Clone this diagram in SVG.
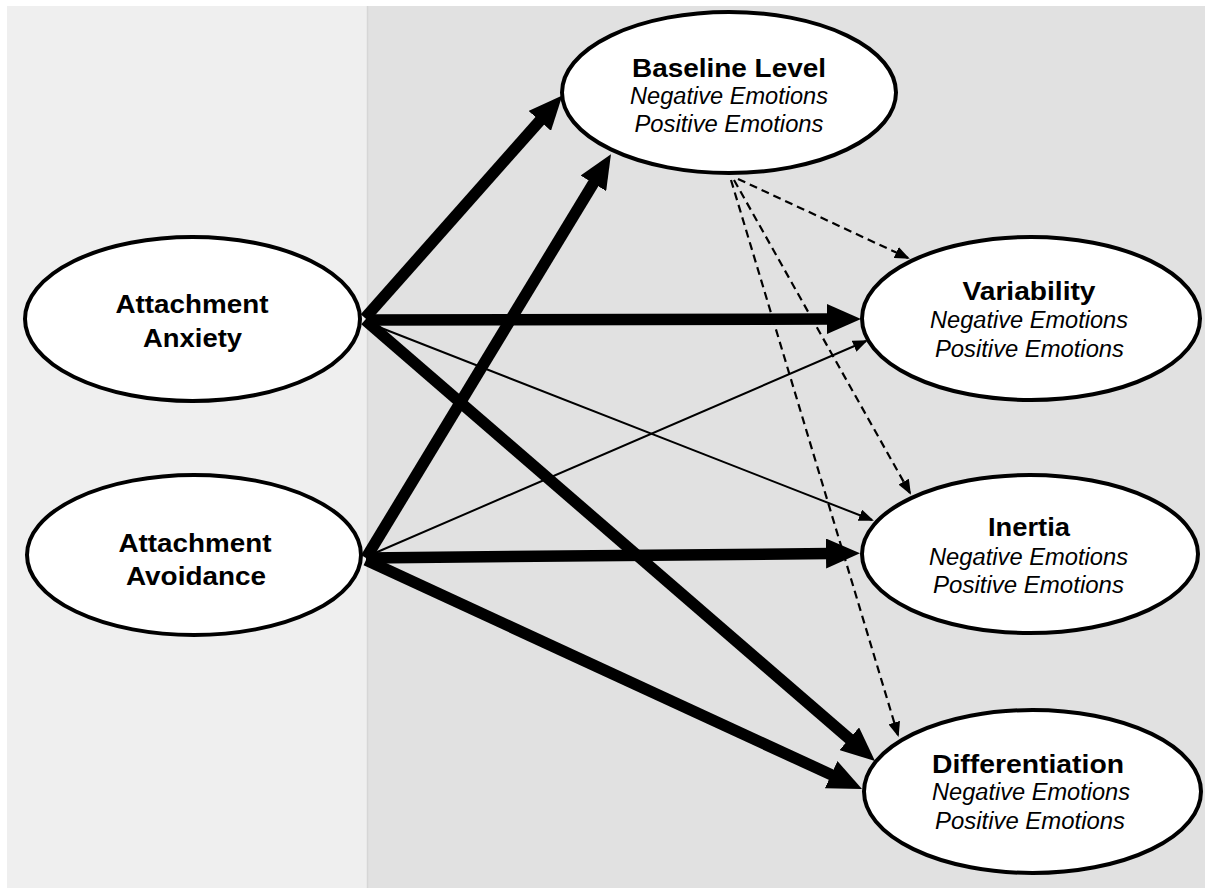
<svg xmlns="http://www.w3.org/2000/svg" width="1205" height="888" viewBox="0 0 1205 888">
<style>
.node ellipse{fill:#fff;stroke:#000;stroke-width:4}
.t{font-family:"Liberation Sans",Arial,sans-serif;font-weight:bold;font-size:26px;fill:#000;text-anchor:middle}
.s{font-family:"Liberation Sans",Arial,sans-serif;font-style:italic;font-size:23px;fill:#000;text-anchor:middle}
.thick{stroke:#000;stroke-width:11.5;fill:none}
.thin{stroke:#000;stroke-width:2;fill:none}
.dash{stroke:#000;stroke-width:2.2;fill:none;stroke-dasharray:8,5}
</style>
<defs>
<marker id="hBig" markerUnits="userSpaceOnUse" markerWidth="34" markerHeight="30" refX="4" refY="15" orient="auto" viewBox="0 0 34 30">
<path d="M0,0 L34,15 L0,30 z" fill="#000"/>
</marker>
<marker id="hSmall" markerUnits="userSpaceOnUse" markerWidth="15" markerHeight="12" refX="13" refY="6" orient="auto" viewBox="0 0 15 12">
<path d="M0,0 L15,6 L0,12 z" fill="#000"/>
</marker>
</defs>
<rect x="0" y="0" width="1205" height="888" fill="#fff"/>
<rect x="7" y="6" width="360" height="882" fill="#efefef"/>
<rect x="367" y="6" width="838" height="882" fill="#e1e1e1"/>
<line x1="367.5" y1="6" x2="367.5" y2="888" stroke="#d6d6d6" stroke-width="1.5"/>
<g id="connectors">
<line class="thick" x1="365" y1="318" x2="542.4" y2="117.9" marker-end="url(#hBig)"/>
<line class="thick" x1="366" y1="558" x2="595.4" y2="179.9" marker-end="url(#hBig)"/>
<line class="thick" x1="366" y1="320" x2="831" y2="319" marker-end="url(#hBig)"/>
<line class="thick" x1="365" y1="320" x2="852.3" y2="741.4" marker-end="url(#hBig)"/>
<line class="thick" x1="366" y1="558" x2="830" y2="553.5" marker-end="url(#hBig)"/>
<line class="thick" x1="366" y1="560" x2="834.8" y2="776.4" marker-end="url(#hBig)"/>
<line class="thin" x1="366" y1="322" x2="872" y2="520" marker-end="url(#hSmall)"/>
<line class="thin" x1="368" y1="556" x2="866" y2="341" marker-end="url(#hSmall)"/>
<line class="dash" x1="738" y1="179" x2="908" y2="258" marker-end="url(#hSmall)"/>
<line class="dash" x1="734" y1="180" x2="910" y2="493" marker-end="url(#hSmall)"/>
<line class="dash" x1="731" y1="180" x2="898" y2="735" marker-end="url(#hSmall)"/>
</g>
<g id="anxiety" class="node">
<ellipse cx="192.5" cy="319" rx="167.5" ry="82"/>
<text class="t" x="192" y="313" textLength="153" lengthAdjust="spacingAndGlyphs">Attachment</text>
<text class="t" x="192.5" y="347" textLength="99" lengthAdjust="spacingAndGlyphs">Anxiety</text>
</g>
<g id="avoidance" class="node">
<ellipse cx="194" cy="555" rx="167" ry="80"/>
<text class="t" x="195" y="552" textLength="153" lengthAdjust="spacingAndGlyphs">Attachment</text>
<text class="t" x="196" y="585" textLength="140" lengthAdjust="spacingAndGlyphs">Avoidance</text>
</g>
<g id="baseline" class="node">
<ellipse cx="729" cy="92.5" rx="167" ry="80.5"/>
<text class="t" x="729" y="77" textLength="194" lengthAdjust="spacingAndGlyphs">Baseline Level</text>
<text class="s" x="729" y="104" textLength="198" lengthAdjust="spacingAndGlyphs">Negative Emotions</text>
<text class="s" x="729" y="132" textLength="189" lengthAdjust="spacingAndGlyphs">Positive Emotions</text>
</g>
<g id="variability" class="node">
<ellipse cx="1031" cy="318.5" rx="169" ry="81.5"/>
<text class="t" x="1029" y="300" textLength="133" lengthAdjust="spacingAndGlyphs">Variability</text>
<text class="s" x="1029" y="328" textLength="198" lengthAdjust="spacingAndGlyphs">Negative Emotions</text>
<text class="s" x="1029.5" y="357" textLength="189" lengthAdjust="spacingAndGlyphs">Positive Emotions</text>
</g>
<g id="inertia" class="node">
<ellipse cx="1030" cy="554" rx="168" ry="79"/>
<text class="t" x="1029" y="536" textLength="82" lengthAdjust="spacingAndGlyphs">Inertia</text>
<text class="s" x="1028.5" y="565" textLength="199" lengthAdjust="spacingAndGlyphs">Negative Emotions</text>
<text class="s" x="1028.5" y="593" textLength="191" lengthAdjust="spacingAndGlyphs">Positive Emotions</text>
</g>
<g id="differentiation" class="node">
<ellipse cx="1032.5" cy="791.5" rx="168.5" ry="81.5"/>
<text class="t" x="1028" y="773" textLength="192" lengthAdjust="spacingAndGlyphs">Differentiation</text>
<text class="s" x="1031" y="800" textLength="198" lengthAdjust="spacingAndGlyphs">Negative Emotions</text>
<text class="s" x="1030" y="829" textLength="190" lengthAdjust="spacingAndGlyphs">Positive Emotions</text>
</g>
</svg>
